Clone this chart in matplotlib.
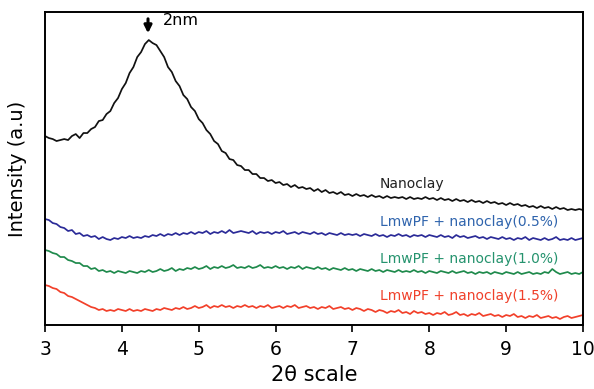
import numpy as np
import matplotlib.pyplot as plt

plt.rcParams['font.family'] = ['DejaVu Sans']

# 2-theta grid, 0.05 step
two_theta = np.round(np.arange(3.0, 10.0001, 0.05), 2)

# intensities (a.u.)
nanoclay = [
    189, 187, 186, 184, 185, 186, 185, 189, 191, 187, 192, 192, 196, 198, 204, 205,
    211, 214, 222, 227, 236, 242, 252, 258, 268, 273, 281, 285, 282, 280, 274, 268,
    258, 253, 244, 239, 230, 226, 218, 214, 206, 202, 195, 191, 184, 181, 174, 172,
    166, 165, 160, 159, 155, 155, 151, 151, 147, 147, 144, 145, 142,
    143, 140, 141, 138, 140, 137, 138, 136, 137, 134, 136, 133, 135, 132, 133, 131,
    133, 130, 131, 129, 131, 129, 130, 128, 130, 128, 129, 127, 129, 127, 128, 127,
    128, 126, 128, 126, 127, 126, 128, 126, 127, 125, 127, 125, 126, 124, 126, 124,
    125, 123, 125, 123, 124, 122, 124, 122, 123, 121, 122, 120, 122, 120, 121, 119,
    120, 118, 119, 117, 119, 117, 118, 116, 118, 116, 117, 115, 116, 115, 116, 115,
]
clay_05 = [
    106, 105, 102, 101, 98, 97, 94, 95, 91, 92, 89, 90, 88, 89, 86, 88, 86, 85, 87,
    86, 88, 87, 89, 87, 88, 87, 89, 88, 90, 89, 91, 89, 91, 90, 92, 90, 92, 91, 93,
    91, 93, 92, 94, 91, 93, 92, 94, 92, 95, 92, 93, 94, 93, 92, 94, 91, 93, 92, 93,
    91, 93,
    92, 94, 91, 92, 93, 91, 93, 92, 91, 93, 91, 92, 90, 92, 91, 90, 92, 90, 91, 90,
    91, 89, 91, 90, 89, 91, 89, 90, 88, 90, 89, 91, 89, 90, 88, 90, 89, 90, 88, 90,
    89, 88, 90, 88, 89, 87, 90, 88, 89, 87, 88, 89, 87, 88, 86, 88, 87, 86, 88, 86,
    87, 85, 87, 86, 88, 85, 87, 86, 85, 87, 85, 86, 88, 85, 86, 85, 87, 85, 86, 87,
]
clay_10 = [
    75, 74, 72, 71, 68, 68, 65, 64, 62, 62, 59, 59, 56, 57, 54, 55, 53, 54, 52, 54,
    53, 52, 54, 53, 52, 54, 53, 55, 53, 54, 56, 54, 55, 57, 54, 56, 55, 57, 56, 58,
    56, 57, 59, 56, 58, 57, 59, 57, 58, 60, 57, 58, 57, 59, 57, 58, 60, 57, 58, 57,
    59,
    57, 58, 56, 58, 57, 59, 56, 58, 57, 56, 58, 56, 57, 55, 57, 56, 55, 57, 55, 56,
    54, 56, 55, 54, 56, 54, 55, 53, 55, 54, 53, 55, 53, 54, 53, 55, 53, 54, 52, 54,
    53, 52, 54, 53, 52, 54, 52, 53, 54, 52, 53, 51, 53, 52, 53, 51, 53, 52, 51, 53,
    52, 51, 53, 51, 52, 53, 51, 52, 51, 53, 52, 56, 53, 51, 52, 53, 51, 52, 51, 53,
]
clay_15 = [
    40, 39, 37, 36, 33, 32, 29, 28, 26, 24, 22, 20, 18, 17, 15, 16, 14, 15, 14, 16,
    15, 14, 16, 14, 15, 14, 16, 15, 14, 16, 15, 17, 16, 15, 17, 16, 18, 16, 17, 19,
    17, 18, 20, 17, 19, 18, 20, 18, 19, 17, 19, 18, 20, 18, 19, 17, 19, 18, 20, 17,
    18,
    19, 17, 19, 18, 20, 17, 18, 19, 17, 18, 16, 18, 17, 19, 16, 17, 18, 16, 17, 15,
    17, 16, 14, 16, 15, 13, 15, 14, 12, 14, 13, 15, 12, 13, 11, 14, 12, 13, 11, 12,
    10, 12, 11, 13, 10, 11, 13, 10, 11, 9, 11, 10, 12, 9, 10, 11, 9, 10, 8, 10,
    9, 11, 8, 9, 7, 9, 8, 10, 7, 8, 9, 7, 8, 6, 8, 9, 7, 8, 9, 10,
]

series = [
    ('Nanoclay', nanoclay, '#111111', '#222222', 141),
    ('LmwPF + nanoclay(0.5%)', clay_05, '#2b2b98', '#2f64ad', 103),
    ('LmwPF + nanoclay(1.0%)', clay_10, '#1f8a4c', '#25936e', 66),
    ('LmwPF + nanoclay(1.5%)', clay_15, '#f2402a', '#f0402a', 29),
]

fig = plt.figure(figsize=(5.94, 3.89), dpi=100)
ax = fig.add_axes([0.0758, 0.1645, 0.9057, 0.8045])

for name, vals, color, tcolor, ty in series:
    assert len(vals) == len(two_theta), (name, len(vals))
    ax.plot(two_theta, vals, color=color, lw=1.25)
    ax.text(7.36, ty, name, color=tcolor, fontsize=10, va='center', ha='left')

# peak marker
ax.annotate('', xy=(4.34, 289), xytext=(4.34, 309),
            arrowprops=dict(arrowstyle='-|>', color='black', lw=2.2,
                            mutation_scale=11))
ax.text(4.53, 305, '2nm', fontsize=11.5, va='center', ha='left')

ax.set_xlim(3, 10)
ax.set_ylim(0, 313)
ax.set_yticks([])
ax.set_xticks(range(3, 11))
ax.tick_params(axis='x', direction='out', length=5, width=1.2, labelsize=13.5, pad=6)
for sp in ax.spines.values():
    sp.set_linewidth(1.4)

ax.set_xlabel('2θ scale', fontsize=15, labelpad=4)
ax.set_ylabel('Intensity (a.u)', fontsize=14, labelpad=13)

plt.savefig('out.png', dpi=100)
